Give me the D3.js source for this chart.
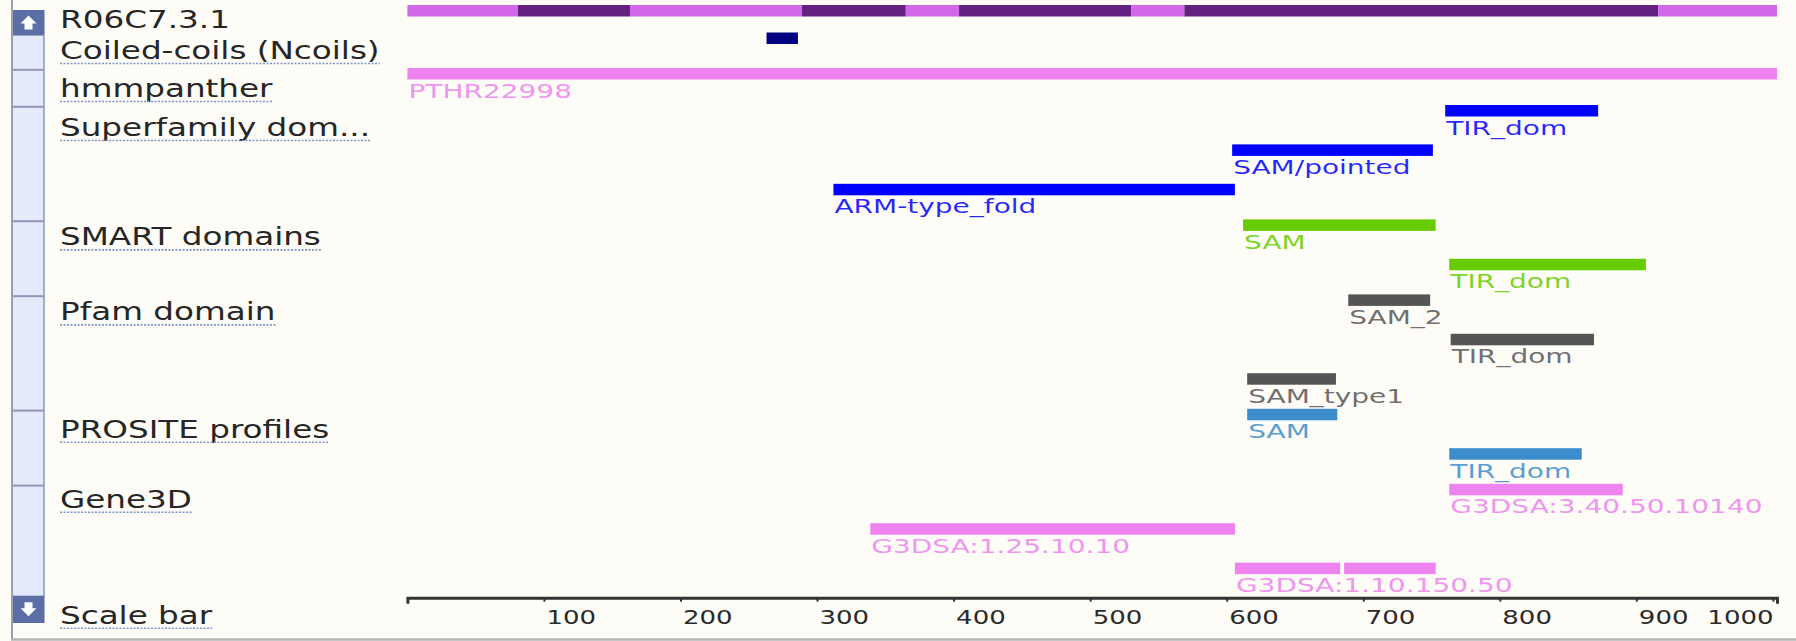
<!DOCTYPE html>
<html><head><meta charset="utf-8">
<script src="https://cdn.jsdelivr.net/npm/d3@7"></script>
<style>html,body{margin:0;padding:0;background:#fdfcf7;}svg{display:block;}</style>
</head><body>
<svg id="chart" width="1796" height="641"></svg>
<script>
// ---------------- data ----------------
const proteinLength = 1003;
const trackNames = ["R06C7.3.1", "Coiled-coils (Ncoils)", "hmmpanther", "Superfamily dom...", "SMART domains", "Pfam domain", "PROSITE profiles", "Gene3D"];
const trackLanes = [1, 1, 1, 3, 2, 3, 2, 3];

const exonStart = [0, 81, 163, 289, 365, 404, 530, 569, 916];
const exonEnd   = [81, 163, 289, 365, 404, 530, 569, 916, 1003];

const coilStart = [263];
const coilEnd   = [286];

const pantherLabels = ["PTHR22998"];
const pantherStart  = [0];
const pantherEnd    = [1003];

const superfamilyLabels = ["TIR_dom", "SAM/pointed", "ARM-type_fold"];
const superfamilyStart  = [760, 604, 312];
const superfamilyEnd    = [872, 751, 606];

const smartLabels = ["SAM", "TIR_dom"];
const smartStart  = [612, 763];
const smartEnd    = [753, 907];

const pfamLabels = ["SAM_2", "TIR_dom", "SAM_type1"];
const pfamStart  = [689, 764, 615];
const pfamEnd    = [749, 869, 680];

const prositeLabels = ["SAM", "TIR_dom"];
const prositeStart  = [615, 763];
const prositeEnd    = [681, 860];

const gene3dLabels = ["G3DSA:3.40.50.10140", "G3DSA:1.25.10.10", "G3DSA:1.10.150.50", ""];
const gene3dStart  = [763, 339, 606, 686];
const gene3dEnd    = [890, 606, 683, 753];
const gene3dLane   = [0, 1, 2, 2];

const tickValues = [100, 200, 300, 400, 500, 600, 700, 800, 900, 1000];
const tickLabels = ["100", "200", "300", "400", "500", "600", "700", "800", "900", "1000"];

// ---------------- styles / layout ----------------
const W = 1796, H = 641;
const bg = "#fdfcf7";
const exonColors = ["#d267ea", "#632282"];
const colors = {coil: "#000080", panther: "#ee82ee", superfamily: "#0000ff", smart: "#66cc00",
                pfam: "#555555", prosite: "#3b8dcb", gene3d: "#ee82ee"};
const barH = 11.5;
const laneGap = 39.4, trackGap = 35.6;
const fontFam = "DejaVu Sans, Verdana, sans-serif";

// track tops
const trackTop = [5, 33, 68, 105];
for (let t = 4; t < trackNames.length; t++) {
  trackTop.push(trackTop[t - 1] + (trackLanes[t - 1] - 1) * laneGap + trackGap);
}
const axisY = trackTop[7] + (trackLanes[7] - 1) * laneGap + trackGap - 0.5;

const svg = d3.select("#chart");
svg.append("rect").attr("width", W).attr("height", H).attr("fill", bg);

const x = d3.scaleLinear().domain([0, proteinLength]).range([407.4, 1777]);

// ---------------- left panel ----------------
const colX0 = 13, colX1 = 44;
svg.append("rect").attr("x", colX0).attr("y", 10).attr("width", colX1 - colX0).attr("height", 613)
  .attr("fill", "#e5eafb");
svg.append("line").attr("x1", colX1).attr("x2", colX1).attr("y1", 10).attr("y2", 623)
  .attr("stroke", "#8d96b8").attr("stroke-width", 1.5);
// separators
const sepYs = trackTop.slice(1).map(d => d + 1.8);
svg.selectAll("line.sep").data(sepYs).enter().append("line").attr("class", "sep")
  .attr("x1", colX0).attr("x2", colX1).attr("y1", d => d).attr("y2", d => d)
  .attr("stroke", "#8d96b8").attr("stroke-width", 2);
// buttons
function button(y0, y1, up) {
  svg.append("rect").attr("x", colX0).attr("y", y0).attr("width", colX1 - colX0).attr("height", y1 - y0)
    .attr("fill", "#5b6fa6");
  const cx = (colX0 + colX1) / 2, cy = (y0 + y1) / 2;
  const s = up ? -1 : 1;
  const p = d3.path();
  p.moveTo(cx, cy + s * 7);
  p.lineTo(cx - 8, cy - s * 1);
  p.lineTo(cx - 4, cy - s * 1);
  p.lineTo(cx - 4, cy - s * 7);
  p.lineTo(cx + 4, cy - s * 7);
  p.lineTo(cx + 4, cy - s * 1);
  p.lineTo(cx + 8, cy - s * 1);
  p.closePath();
  svg.append("path").attr("d", p.toString()).attr("fill", "#ffffff");
}
button(10, 35, true);
button(axisY - 2, 623, false);
// outer borders
svg.append("line").attr("x1", 12).attr("x2", 12).attr("y1", 0).attr("y2", 640)
  .attr("stroke", "#9a9fb0").attr("stroke-width", 2);
svg.append("line").attr("x1", 11).attr("x2", W).attr("y1", 639.5).attr("y2", 639.5)
  .attr("stroke", "#b5b5b5").attr("stroke-width", 2.5);

// left labels
const labelSX = 1.36;
const leftNames = trackNames.concat(["Scale bar"]);
const labelOffsets = [23, 26, 29, 31, 26, 26, 29, 24, 26];
const leftYs = trackTop.concat([axisY]).map((d, i) => d + labelOffsets[i]);
leftNames.forEach((name, i) => {
  const t = svg.append("text").attr("transform", `translate(60,${leftYs[i]}) scale(${labelSX},1)`)
    .attr("font-family", fontFam).attr("font-size", 24).attr("fill", "#262626").text(name);
  if (i > 0) {
    const w = t.node().getComputedTextLength() * labelSX;
    svg.append("line").attr("x1", 60).attr("x2", 60 + w).attr("y1", leftYs[i] + 4.5).attr("y2", leftYs[i] + 4.5)
      .attr("stroke", "#7f95c9").attr("stroke-width", 1.6).attr("stroke-dasharray", "2,1.5");
  }
});

// ---------------- tracks ----------------
// exon bar
svg.selectAll("rect.exon").data(exonStart).enter().append("rect").attr("class", "exon")
  .attr("x", (d) => x(d)).attr("y", trackTop[0])
  .attr("width", (d, i) => x(exonEnd[i]) - x(d)).attr("height", barH)
  .attr("fill", (d, i) => exonColors[i % 2]);

// coiled coils
svg.selectAll("rect.coil").data(coilStart).enter().append("rect").attr("class", "coil")
  .attr("x", d => x(d)).attr("y", trackTop[1] - 0.5)
  .attr("width", (d, i) => x(coilEnd[i]) - x(d)).attr("height", barH)
  .attr("fill", colors.coil);

const domSX = 1.4;
function featureTrack(t, starts, ends, labels, lanes, color) {
  const data = starts.map((s, i) => ({s, e: ends[i], label: labels[i], lane: lanes ? lanes[i] : i}));
  const g = svg.append("g");
  data.forEach(d => {
    const y0 = trackTop[t] + d.lane * laneGap;
    g.append("rect").attr("x", x(d.s)).attr("y", y0).attr("width", x(d.e) - x(d.s)).attr("height", barH)
      .attr("fill", color);
    if (d.label) {
      g.append("text").attr("transform", `translate(${x(d.s) + 1},${y0 + barH + 18}) scale(${domSX},1)`)
        .attr("font-family", fontFam).attr("font-size", 20).attr("fill", color).attr("fill-opacity", 0.85)
        .text(d.label);
    }
  });
}
featureTrack(2, pantherStart, pantherEnd, pantherLabels, null, colors.panther);
featureTrack(3, superfamilyStart, superfamilyEnd, superfamilyLabels, null, colors.superfamily);
featureTrack(4, smartStart, smartEnd, smartLabels, null, colors.smart);
featureTrack(5, pfamStart, pfamEnd, pfamLabels, null, colors.pfam);
featureTrack(6, prositeStart, prositeEnd, prositeLabels, null, colors.prosite);
featureTrack(7, gene3dStart, gene3dEnd, gene3dLabels, gene3dLane, colors.gene3d);

// ---------------- scale bar ----------------
const axisSX = 1.3;
const axis = d3.axisBottom(x).tickValues(tickValues).tickSize(4).tickSizeOuter(6)
  .tickFormat((d, i) => tickLabels[i]);
const gA = svg.append("g").attr("transform", `translate(0,${axisY})`).call(axis);
gA.select(".domain").attr("stroke", "#333").attr("stroke-width", 3);
gA.selectAll(".tick line").attr("stroke", "#333").attr("stroke-width", 2);
const nT = tickValues.length;
gA.selectAll(".tick text")
  .attr("font-family", fontFam).attr("font-size", 20).attr("fill", "#2a2a2a")
  .attr("y", null).attr("dy", null)
  .attr("text-anchor", (d, i) => i === nT - 1 ? "end" : "start")
  .attr("transform", (d, i) => i === nT - 1 ? `translate(${x(proteinLength) - x(d) - 4},26) scale(${axisSX},1)`
                                             : `translate(2,26) scale(${axisSX},1)`);
</script>
</body></html>
